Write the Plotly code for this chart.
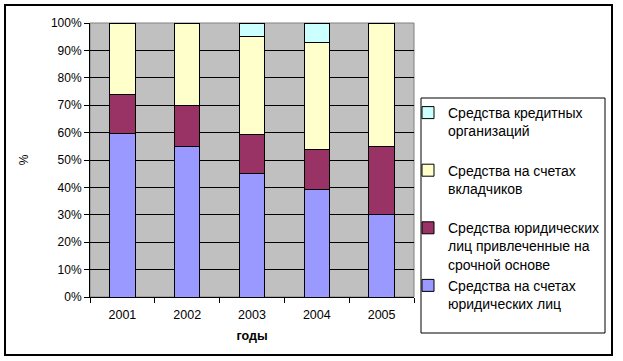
import plotly.graph_objects as go

years = ["2001", "2002", "2003", "2004", "2005"]
series_names = [
    "Средства на счетах<br>юридических лиц",
    "Средства юридических<br>лиц привлеченные на<br>срочной основе",
    "Средства на счетах<br>вкладчиков<br> ",
    "Средства кредитных<br>организаций<br> ",
]
legal_accounts = [59.5, 55.0, 45.0, 39.3, 30.0]
legal_term = [14.5, 15.0, 14.4, 14.6, 25.0]
depositors = [26.0, 30.0, 35.8, 39.1, 45.0]
credit_orgs = [0.0, 0.0, 4.8, 7.0, 0.0]
colors = ["#9999FF", "#993366", "#FFFFCC", "#CCFFFF"]
y_ticks = [0, 10, 20, 30, 40, 50, 60, 70, 80, 90, 100]

FONT = "Liberation Sans, Arial, sans-serif"

fig = go.Figure()
for name, vals, col in zip(series_names, [legal_accounts, legal_term, depositors, credit_orgs], colors):
    fig.add_trace(go.Bar(
        x=years, y=vals, name=name,
        marker=dict(color=col, line=dict(color="black", width=1)),
        hoverinfo="skip",
    ))

W, H = 623, 361
L, T = 90, 23
R = W - 414
B = H - 297
pw, ph = W - L - R, H - T - B

def px(x):
    return (x - L) / pw

def py(y):
    return (H - B - y) / ph

fig.update_layout(
    width=W, height=H,
    margin=dict(l=L, r=R, t=T, b=B, autoexpand=False),
    barmode="stack",
    bargap=0.61,
    plot_bgcolor="#C0C0C0",
    paper_bgcolor="white",
    font=dict(family=FONT, size=12, color="black"),
    showlegend=True,
    legend=dict(
        traceorder="reversed",
        valign="top",
        x=px(408), y=py(97), xref="paper", yref="paper",
        xanchor="left", yanchor="top",
        bgcolor="rgba(0,0,0,0)", borderwidth=0,
        font=dict(family=FONT, size=14, color="black"),
        itemwidth=30,
    ),
    xaxis=dict(
        type="category",
        showline=True, linecolor="black", linewidth=1,
        ticks="outside", ticklen=5, tickcolor="black", tickson="boundaries",
        showgrid=False,
        ticklabelstandoff=6,
        tickfont=dict(family=FONT, size=12.5),
        title=dict(text="<b>годы</b>", font=dict(family=FONT, size=12.5), standoff=10),
    ),
    yaxis=dict(
        range=[0, 100],
        tickvals=y_ticks,
        ticktext=[f"{v}%" for v in y_ticks],
        showline=True, linecolor="black", linewidth=1,
        ticks="outside", ticklen=5, tickcolor="black",
        showgrid=True, gridcolor="black", gridwidth=1,
        zeroline=False,
        tickfont=dict(family=FONT, size=12),
        title=dict(text="%", font=dict(family=FONT, size=12), standoff=19),
    ),
    shapes=[
        dict(type="rect", xref="paper", yref="paper", x0=0, x1=1, y0=0, y1=1,
             line=dict(color="#808080", width=1), layer="between"),
        dict(type="rect", xref="paper", yref="paper",
             x0=px(421), x1=px(605), y0=py(333), y1=py(98),
             line=dict(color="black", width=1), fillcolor="rgba(0,0,0,0)", layer="above"),
        dict(type="rect", xref="paper", yref="paper",
             x0=px(5), x1=px(612), y0=py(355), y1=py(5),
             line=dict(color="black", width=2), fillcolor="rgba(0,0,0,0)", layer="above"),
    ],
)

fig.write_html(
    "out.html",
    config={"displayModeBar": False},
    post_script="document.body.style.margin='0';document.body.style.overflow='hidden';",
)
